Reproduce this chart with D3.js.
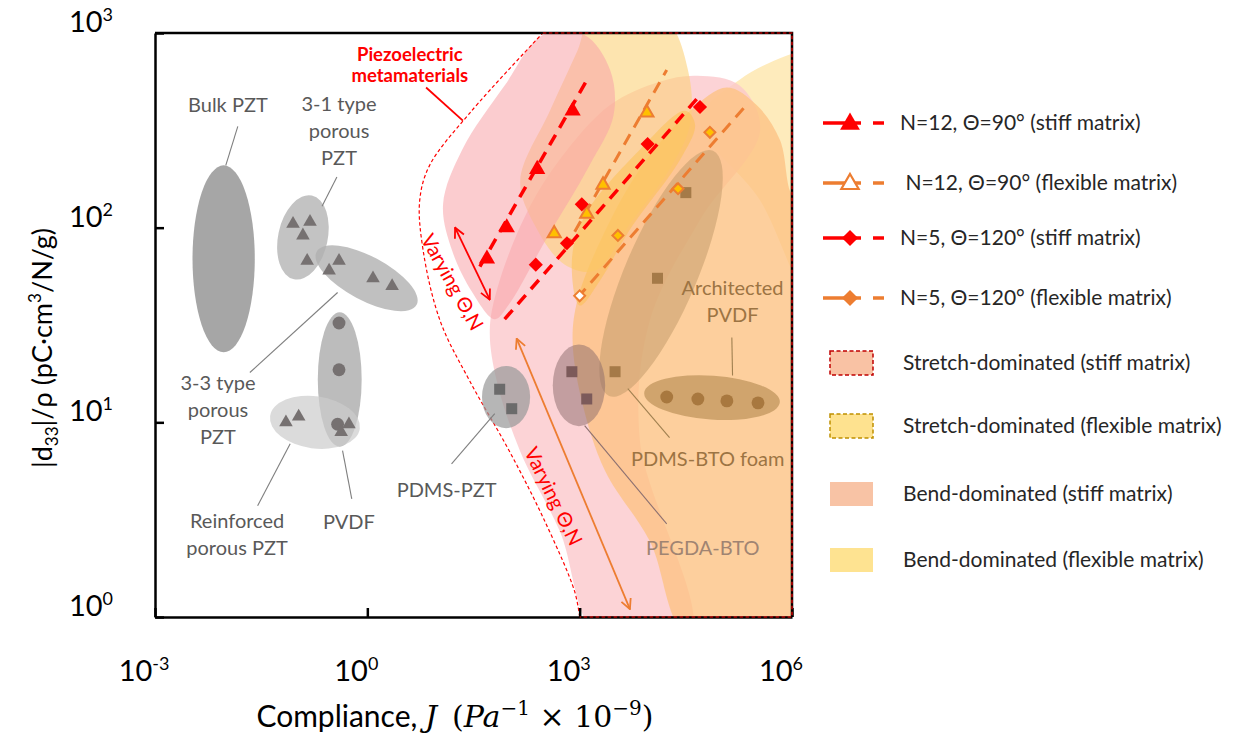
<!DOCTYPE html>
<html lang="en">
<head>
<meta charset="UTF-8">
<title>d33/rho versus compliance</title>
<script src="https://d3js.org/d3.v7.min.js"></script>
<style>
  body { margin: 0; background: #fff; }
  svg { font-family: Lato, "Open Sans", sans-serif; }
  .gray-label { fill: #595959; font-size: 20px; text-anchor: middle; }
  .brown-label { fill: #9c7443; font-size: 20px; text-anchor: middle; }
  .leg-text { fill: #262626; font-size: 21px; }
</style>
</head>
<body>
<svg id="chart" width="1245" height="736"></svg>
<script>
// all chart values are log10 of (compliance J, |d33|/rho)
const xTicks = [1e-3, 1, 1e3, 1e6];
const xTickExp = ["-3", "0", "3", "6"];
const yTicks = [1, 10, 100, 1000];
const yTickExp = ["0", "1", "2", "3"];

// metamaterial series
const n12Stiff = [[1.69, 1.84], [1.97, 2.00], [2.40, 2.30], [2.90, 2.60]];
const n12StiffLine = [[1.59, 1.80], [3.09, 2.75]];
const n12Flex = [[2.64, 1.97], [3.10, 2.07], [3.33, 2.22], [3.95, 2.59]];
const n12FlexLine = [[2.79, 1.89], [4.23, 2.81]];
const n5Stiff = [[2.38, 1.81], [2.82, 1.92], [3.03, 2.12], [3.96, 2.43], [4.70, 2.62]];
const n5StiffLine = [[1.94, 1.53], [4.70, 2.68]];
const n5Flex = [[3.00, 1.65], [3.54, 1.96], [4.39, 2.20], [4.84, 2.49]];
const n5FlexHollow = [true, false, false, false];
const n5FlexLine = [[2.97, 1.64], [5.33, 2.62]];

// literature materials
const porous31 = [[-1.05, 2.02], [-0.81, 2.03], [-0.91, 1.96], [-0.85, 1.83]];
const porous33 = [[-0.54, 1.78], [-0.40, 1.83], [0.08, 1.74], [0.35, 1.70]];
const reinforced = [[-1.15, 1.00], [-0.97, 1.03]];
const pvdfDots = [[-0.40, 1.51], [-0.40, 1.27], [-0.42, 0.99]];
const pvdfTri = [[-0.26, 0.99], [-0.37, 0.95]];
const pdmsPzt = [[1.87, 1.17], [2.04, 1.07]];
const pegdaBto = [[2.89, 1.26], [3.10, 1.12]];
const pdmsBtoFoam = [[3.50, 1.26]];
const archSquares = [[4.50, 2.18], [4.10, 1.74]];
const archDots = [[4.23, 1.13], [4.67, 1.12], [5.08, 1.11], [5.52, 1.10]];

// property envelopes: centre, half widths in decades, tilt
const ellipses = [
  { name: "bulk", c: [-2.03, 1.84], r: [0.44, 0.48], a: 0 },
  { name: "p31", c: [-0.91, 1.95], r: [0.35, 0.22], a: 12 },
  { name: "p33", c: [-0.01, 1.74], r: [0.80, 0.113], a: 28 },
  { name: "pvdf", c: [-0.39, 1.22], r: [0.31, 0.345], a: 0 },
  { name: "reinf", c: [-0.74, 1.00], r: [0.64, 0.134], a: 8 },
  { name: "pdmsPzt", c: [1.96, 1.13], r: [0.34, 0.16], a: 0 },
  { name: "archTilt", c: [4.15, 1.765], r: [0.51, 0.684], a: 23 },
  { name: "pegda", c: [2.99, 1.19], r: [0.37, 0.21], a: 0 },
  { name: "archDots", c: [4.87, 1.127], r: [0.96, 0.113], a: 4 }
];
const ellipseFill = {
  bulk: ["#a6a6a6", 1], p31: ["#bdbdbd", 0.9], p33: ["#b0b0b0", 0.8],
  pvdf: ["#b0b0b0", 0.85], reinf: ["#cccccc", 0.7], pdmsPzt: ["#9a9a9a", 0.72],
  archTilt: ["#c49c6c", 0.55], pegda: ["#8a6a6a", 0.5], archDots: ["#c0955e", 0.75]
};

// design regions
const regionPaleTop = [[4.70, 2.55], [5.26, 2.76], [5.97, 2.89], [6.25, 2.91], [6.25, 1.63], [5.55, 2.14]];
const regionPinkBand = [[3.26, -0.1], [2.72, 0.44], [2.16, 0.85], [1.83, 1.21], [1.73, 1.47], [1.83, 1.68],
  [2.23, 2.06], [2.72, 2.35], [3.43, 2.63], [4.13, 2.75], [4.66, 2.78], [5.26, 2.73], [5.55, 2.50],
  [4.70, 2.04], [3.99, 1.52], [3.85, 0.91], [4.56, -0.1]];
const regionOrange = [[2.97, 1.63], [3.29, 1.93], [3.85, 2.30], [4.56, 2.60], [5.08, 2.72], [5.50, 2.63],
  [5.83, 2.45], [5.97, 2.19], [6.11, 2.10], [6.11, -0.12], [4.56, -0.12], [3.99, 0.39], [3.36, 0.75],
  [3.03, 1.11], [2.90, 1.42]];
const regionYellow = [[2.16, 2.24], [2.58, 2.60], [2.97, 2.91], [3.16, 3.07], [4.20, 3.07], [4.53, 2.81],
  [4.56, 2.53], [4.27, 2.30], [3.71, 2.02], [3.22, 1.78], [2.79, 1.81], [2.37, 2.01]];
const regionDeepYellow = [[3.00, 1.60], [2.89, 1.83], [3.07, 2.06], [3.85, 2.40], [4.49, 2.60], [4.63, 2.53],
  [4.42, 2.35], [3.71, 1.99], [3.29, 1.73]];
const regionPinkTop = [[1.07, 2.12], [1.34, 2.40], [1.94, 2.73], [2.48, 2.99], [3.07, 2.99], [3.43, 2.81],
  [3.48, 2.58], [3.14, 2.32], [2.51, 1.93], [1.99, 1.60], [1.80, 1.53], [1.48, 1.67], [1.20, 1.88]];
const metaBoundary = [[3.00, 0.00], [2.93, 0.13], [2.51, 0.49], [2.01, 0.85], [1.45, 1.21], [1.03, 1.52],
  [0.79, 1.88], [0.74, 2.14], [0.88, 2.32], [1.45, 2.59], [2.48, 3.00]];

// annotations
const labels = [
  { cls: "gray-label", lines: ["Bulk PZT"], p: [-1.97, 2.63] },
  { cls: "gray-label", lines: ["3-1 type", "porous", "PZT"], p: [-0.40, 2.635] },
  { cls: "gray-label", lines: ["3-3 type", "porous", "PZT"], p: [-2.11, 1.204] },
  { cls: "gray-label", lines: ["Reinforced", "porous PZT"], p: [-1.84, 0.494] },
  { cls: "gray-label", lines: ["PVDF"], p: [-0.26, 0.49] },
  { cls: "gray-label", lines: ["PDMS-PZT"], p: [1.12, 0.65] },
  { cls: "brown-label", lines: ["PDMS-BTO foam"], p: [4.81, 0.81] },
  { cls: "brown-label", lines: ["PEGDA-BTO"], p: [4.74, 0.355], color: "#a08472" },
  { cls: "brown-label", lines: ["Architected", "PVDF"], p: [5.16, 1.69] }
];
const leaders = [
  { a: [-1.83, 2.52], b: [-2.00, 2.32], c: "#7f7f7f" },
  { a: [-0.43, 2.26], b: [-0.64, 2.11], c: "#7f7f7f" },
  { a: [-1.66, 1.256], b: [-0.42, 1.667], c: "#7f7f7f" },
  { a: [-1.09, 0.89], b: [-1.55, 0.571], c: "#7f7f7f" },
  { a: [-0.35, 0.855], b: [-0.22, 0.607], c: "#7f7f7f" },
  { a: [1.19, 0.787], b: [1.80, 1.045], c: "#7f7f7f" },
  { a: [3.68, 1.173], b: [4.27, 0.921], c: "#a08050" },
  { a: [3.07, 0.983], b: [4.23, 0.478], c: "#8c7070" },
  { a: [5.15, 1.436], b: [5.16, 1.24], c: "#a08050" },
  { a: [0.83, 2.72], b: [1.35, 2.55], c: "#ff0000", w: 1.8 }
];
const arrowRed = [[1.24, 2.00], [1.73, 1.63]];
const arrowOrange = [[2.11, 1.43], [3.71, 0.04]];
const varyingText = [
  { p: [1.20, 1.72], a: 61 },
  { p: [2.63, 0.62], a: 64 }
];

const legendSeries = ["N=12, \u0398=90\u00b0 (stiff matrix)", " N=12, \u0398=90\u00b0 (flexible matrix)",
  "N=5, \u0398=120\u00b0 (stiff matrix)", "N=5, \u0398=120\u00b0 (flexible matrix)"];
const legendRegions = ["Stretch-dominated (stiff matrix)", "Stretch-dominated (flexible matrix)",
  "Bend-dominated (stiff matrix)", "Bend-dominated (flexible matrix)"];

const svg = d3.select("#chart");
const x = d3.scaleLog().domain([1e-3, 1e6]).range([155, 792]);
const y = d3.scaleLog().domain([1, 1e3]).range([617, 33]);
const P = d => [x(10 ** d[0]), y(10 ** d[1])];
const decX = x(10) - x(1), decY = y(1) - y(10);

svg.append("clipPath").attr("id", "plot").append("rect")
  .attr("x", 155).attr("y", 33).attr("width", 637).attr("height", 584);

const defs = svg.append("defs");
[["arRed", "#ff0000"], ["arOrange", "#ed7d31"]].forEach(([id, c]) => {
  defs.append("marker").attr("id", id).attr("viewBox", "0 0 12 12")
    .attr("refX", 11).attr("refY", 6).attr("markerWidth", 12).attr("markerHeight", 12)
    .attr("markerUnits", "userSpaceOnUse").attr("orient", "auto-start-reverse")
    .append("path").attr("d", "M1,1 L11,6 L1,11").attr("fill", "none")
    .attr("stroke", c).attr("stroke-width", 1.8);
});

const plot = svg.append("g").attr("clip-path", "url(#plot)");
const blob = d3.line().curve(d3.curveCatmullRomClosed.alpha(0.5));

// regions
function region(pts, fill, op) {
  plot.append("path").attr("d", blob(pts.map(P))).attr("fill", fill).attr("fill-opacity", op);
}
region(regionPaleTop, "#fde4a6", 0.75);
region(regionPinkBand, "#fbc6cb", 0.78);
region(regionOrange, "#fcc385", 0.8);
region(regionYellow, "#fcd27a", 0.6);
region(regionDeepYellow, "#fcc04e", 0.5);
region(regionPinkTop, "#f8a3a8", 0.55);

// piezoelectric metamaterial boundary
const bLine = d3.line().curve(d3.curveCatmullRom.alpha(0.5));
plot.append("path")
  .attr("d", bLine(metaBoundary.map(P)) + `L${x(1e6)},${y(1e3)}L${x(1e6)},${y(1)}Z`)
  .attr("fill", "none").attr("stroke", "#ff0000").attr("stroke-width", 1.2)
  .attr("stroke-dasharray", "3.5,2.5");

// ellipses
ellipses.forEach(e => {
  const [cx, cy] = P(e.c);
  plot.append("ellipse")
    .attr("transform", `translate(${cx},${cy}) rotate(${e.a})`)
    .attr("rx", e.r[0] * decX).attr("ry", e.r[1] * decY)
    .attr("fill", ellipseFill[e.name][0]).attr("fill-opacity", ellipseFill[e.name][1]);
});

// leader lines
leaders.forEach(l => {
  const a = P(l.a), b = P(l.b);
  svg.append("line").attr("x1", a[0]).attr("y1", a[1]).attr("x2", b[0]).attr("y2", b[1])
    .attr("stroke", l.c).attr("stroke-width", l.w || 1.1);
});

// literature markers
const sym = (type, size) => d3.symbol().type(type).size(size)();
function marks(data, type, size, fill, rot) {
  plot.selectAll(null).data(data).enter().append("path")
    .attr("d", sym(type, size))
    .attr("transform", d => `translate(${P(d)}) rotate(${rot || 0})`)
    .attr("fill", fill);
}
marks(porous31, d3.symbolTriangle, 80, "#767171");
marks(porous33, d3.symbolTriangle, 80, "#767171");
marks(reinforced, d3.symbolTriangle, 80, "#767171");
marks(pvdfDots, d3.symbolCircle, 130, "#767171");
marks(pvdfTri, d3.symbolTriangle, 80, "#767171");
marks(pdmsPzt, d3.symbolSquare, 121, "#6b6b6b");
marks(pegdaBto, d3.symbolSquare, 121, "#7c5a5a");
marks(pdmsBtoFoam, d3.symbolSquare, 121, "#a57a48");
marks(archSquares, d3.symbolSquare, 121, "#a57a48");
marks(archDots, d3.symbolCircle, 130, "#a8783f");

// dashed series lines
const seg = d3.line();
function dashed(pts, c, w) {
  plot.append("path").attr("d", seg(pts.map(P))).attr("fill", "none")
    .attr("stroke", c).attr("stroke-width", w).attr("stroke-dasharray", "12,8");
}
dashed(n12FlexLine, "#ed7d31", 3);
dashed(n5FlexLine, "#ed7d31", 3);
dashed(n12StiffLine, "#ff0000", 3.5);
dashed(n5StiffLine, "#ff0000", 3.5);

marks(n12Stiff, d3.symbolTriangle, 115, "#ff0000");
plot.selectAll(null).data(n12Flex).enter().append("path")
  .attr("d", sym(d3.symbolTriangle, 75)).attr("transform", d => `translate(${P(d)})`)
  .attr("fill", "#ffc000").attr("stroke", "#ed7d31").attr("stroke-width", 2);
marks(n5Stiff, d3.symbolSquare, 100, "#ff0000", 45);
plot.selectAll(null).data(n5Flex).enter().append("path")
  .attr("d", sym(d3.symbolSquare, 60)).attr("transform", d => `translate(${P(d)}) rotate(45)`)
  .attr("fill", (d, i) => n5FlexHollow[i] ? "#fff" : "#ffc000")
  .attr("stroke", "#ed7d31").attr("stroke-width", 2);

// arrows
[[arrowRed, "#ff0000", "arRed"], [arrowOrange, "#ed7d31", "arOrange"]].forEach(([pts, c, m]) => {
  const a = P(pts[0]), b = P(pts[1]);
  svg.append("line").attr("x1", a[0]).attr("y1", a[1]).attr("x2", b[0]).attr("y2", b[1])
    .attr("stroke", c).attr("stroke-width", 1.8)
    .attr("marker-start", `url(#${m})`).attr("marker-end", `url(#${m})`);
});
varyingText.forEach(v => {
  const [px, py] = P(v.p);
  svg.append("text").attr("transform", `translate(${px},${py}) rotate(${v.a})`)
    .attr("text-anchor", "middle").attr("dy", "0.35em")
    .attr("fill", "#ff0000").attr("font-size", 20).text("Varying \u0398,N");
});

// text labels
labels.forEach(l => {
  const [px, py] = P(l.p);
  const t = svg.append("text").attr("class", l.cls).attr("x", px).attr("y", py);
  if (l.color) t.style("fill", l.color);
  l.lines.forEach((s, i) => t.append("tspan").attr("x", px).attr("dy", i ? "1.35em" : "0.35em").text(s));
});
const piezo = svg.append("text").attr("fill", "#ff0000").attr("font-weight", "bold")
  .attr("font-size", 18.5).attr("text-anchor", "middle");
[["Piezoelectric", 2.89], ["metamaterials", 2.78]].forEach(([s, ly]) => {
  piezo.append("tspan").attr("x", x(10 ** 0.60)).attr("y", y(10 ** ly)).attr("dy", "0.35em").text(s);
});

// axes
const gx = svg.append("g").attr("transform", `translate(0,${y(1)})`)
  .call(d3.axisBottom(x).tickValues(xTicks).tickFormat("").tickSizeInner(-9).tickSizeOuter(0));
const gy = svg.append("g").attr("transform", `translate(${x(1e-3)},0)`)
  .call(d3.axisLeft(y).tickValues(yTicks).tickFormat("").tickSizeInner(-9).tickSizeOuter(0));
[gx, gy].forEach(g => {
  g.select(".domain").attr("stroke", "#000").attr("stroke-width", 2.5);
  g.selectAll(".tick line").attr("stroke", "#000").attr("stroke-width", 2.5);
});
svg.append("path").attr("d", `M${x(1e-3)},${y(1e3)}H${x(1e6)}V${y(1)}`)
  .attr("fill", "none").attr("stroke", "#000").attr("stroke-width", 2.5);
svg.append("path").attr("d", `M${x(10 ** 2.48)},${y(1e3)}H${x(1e6)}V${y(1)}H${x(1e3)}`)
  .attr("fill", "none").attr("stroke", "#ff0000").attr("stroke-width", 1.2).attr("stroke-dasharray", "3.5,2.5");

function powLabel(sel, exp) {
  sel.append("tspan").text("10");
  sel.append("tspan").attr("font-size", "0.62em").attr("dy", "-0.62em").text(exp);
}
xTicks.forEach((v, i) => {
  const t = svg.append("text").attr("x", x(v) - 11).attr("y", 681).attr("text-anchor", "middle")
    .attr("font-size", 29).attr("fill", "#000");
  powLabel(t, xTickExp[i]);
});
yTicks.forEach((v, i) => {
  const t = svg.append("text").attr("x", 113).attr("y", y(v) - 1).attr("text-anchor", "end")
    .attr("font-size", 29).attr("fill", "#000");
  powLabel(t, yTickExp[i]);
});

const xl = svg.append("text").attr("x", 455).attr("y", 727).attr("text-anchor", "middle")
  .attr("font-size", 30).attr("fill", "#000");
xl.append("tspan").text("Compliance, ");
const serif = "'DejaVu Serif', 'Liberation Serif', serif";
xl.append("tspan").attr("font-family", serif).attr("font-style", "italic").text("J");
xl.append("tspan").attr("font-family", serif).text("\u2002(");
xl.append("tspan").attr("font-family", serif).attr("font-style", "italic").text("Pa");
xl.append("tspan").attr("font-family", serif).attr("font-size", 20).attr("dy", -12).text("\u22121");
xl.append("tspan").attr("font-family", serif).attr("dy", 12).text(" \u00d7 10");
xl.append("tspan").attr("font-family", serif).attr("font-size", 20).attr("dy", -12).text("\u22129");
xl.append("tspan").attr("font-family", serif).attr("dy", 12).text(")");

const yl = svg.append("text").attr("transform", "translate(52,348) rotate(-90)")
  .attr("text-anchor", "middle").attr("font-size", 27).attr("fill", "#000");
yl.append("tspan").text("|d");
yl.append("tspan").attr("font-size", 17).attr("dy", 6).text("33");
yl.append("tspan").attr("dy", -6).text("|/\u03c1 (pC\u00b7cm");
yl.append("tspan").attr("font-size", 17).attr("dy", -11).text("3");
yl.append("tspan").attr("dy", 11).text("/N/g)");

// legend: series
const legY = [123, 183, 238, 298];
const legStyle = [
  { c: "#ff0000", type: d3.symbolTriangle, size: 170, fill: "#ff0000", rot: 0 },
  { c: "#ed7d31", type: d3.symbolTriangle, size: 130, fill: "#fff", rot: 0, stroke: true },
  { c: "#ff0000", type: d3.symbolSquare, size: 130, fill: "#ff0000", rot: 45 },
  { c: "#ed7d31", type: d3.symbolSquare, size: 130, fill: "#ed7d31", rot: 45 }
];
legendSeries.forEach((s, i) => {
  const st = legStyle[i], yy = legY[i];
  svg.append("line").attr("x1", 823).attr("x2", 884).attr("y1", yy).attr("y2", yy)
    .attr("stroke", st.c).attr("stroke-width", 3.5).attr("stroke-dasharray", "38,12,11");
  svg.append("path").attr("d", sym(st.type, st.size))
    .attr("transform", `translate(850,${yy + (st.rot ? 0 : 1)}) rotate(${st.rot})`)
    .attr("fill", st.fill).attr("stroke", st.stroke ? st.c : "none").attr("stroke-width", 2.2);
  svg.append("text").attr("class", "leg-text").attr("x", 900).attr("y", yy).attr("dy", "0.35em")
    .attr("xml:space", "preserve").text(s);
});

// legend: regions
const boxY = [363, 426, 494, 560];
const boxStyle = [
  { fill: "#f9c2a4", stroke: "#c00000" }, { fill: "#fee28f", stroke: "#bf9000" },
  { fill: "#f8c3a5" }, { fill: "#fee391" }
];
legendRegions.forEach((s, i) => {
  const st = boxStyle[i], yy = boxY[i];
  svg.append("rect").attr("x", 830).attr("y", yy - 12).attr("width", 43).attr("height", 24)
    .attr("fill", st.fill).attr("stroke", st.stroke || "none").attr("stroke-width", 1.5)
    .attr("stroke-dasharray", "4,2.5");
  svg.append("text").attr("class", "leg-text").attr("x", 903).attr("y", yy).attr("dy", "0.35em").text(s);
});
</script>
</body>
</html>
